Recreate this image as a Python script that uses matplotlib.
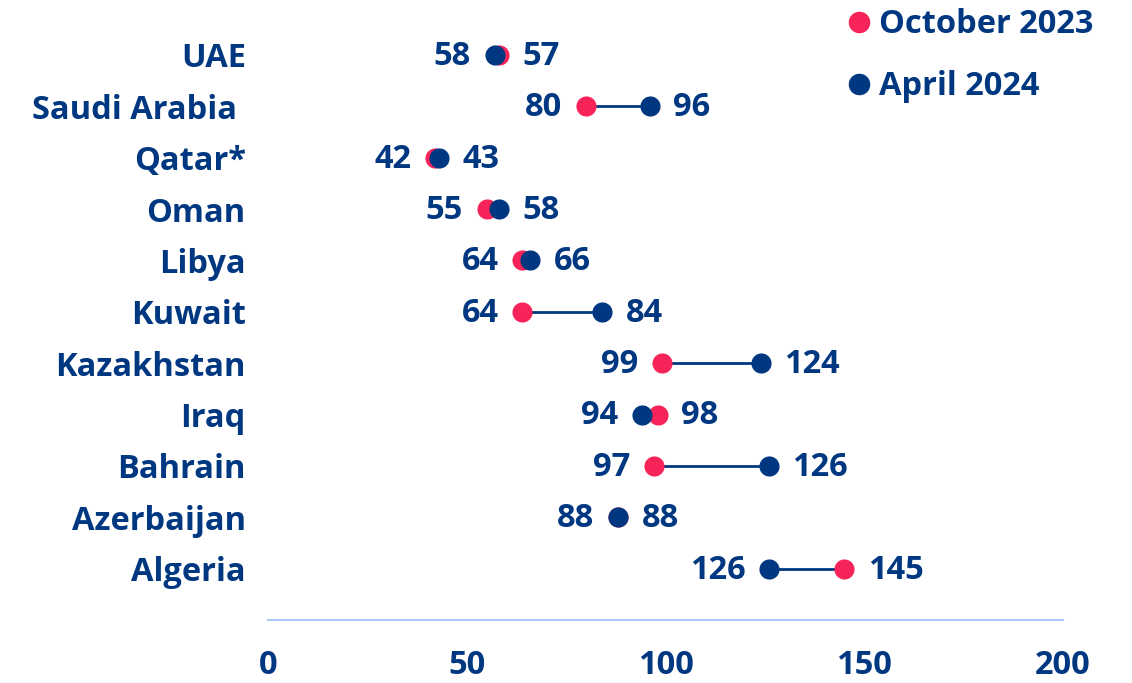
import matplotlib
matplotlib.use('Agg')
import matplotlib.pyplot as plt

# Data (top to bottom as shown)
countries = ['UAE', 'Saudi Arabia ', 'Qatar*', 'Oman', 'Libya', 'Kuwait',
             'Kazakhstan', 'Iraq', 'Bahrain', 'Azerbaijan', 'Algeria']
oct_2023 = [58, 80, 42, 55, 64, 64, 99, 98, 97, 88, 145]
apr_2024 = [57, 96, 43, 58, 66, 84, 124, 94, 126, 88, 126]
left_labels = ['58', '80', '42', '55', '64', '64', '99', '94', '97', '88', '126']
right_labels = ['57', '96', '43', '58', '66', '84', '124', '98', '126', '88', '145']
x_ticks = [0, 50, 100, 150, 200]

RED = '#f62459'
BLUE = '#003781'
AXIS = '#a8c8f8'

plt.rcParams['font.family'] = ['Open Sans', 'DejaVu Sans']
W = 'bold'
FS = 23.5

fig = plt.figure(figsize=(11.32, 6.83), dpi=100)
ax = fig.add_axes([268 / 1132, 1 - 620 / 683, (1063 - 268) / 1132, 0.865])

n = len(countries)
ys = [n - 1 - i for i in range(n)]

for y, a, b, ll, rl in zip(ys, oct_2023, apr_2024, left_labels, right_labels):
    ax.plot([a, b], [y, y], color=BLUE, lw=2, zorder=1)
    ax.annotate(ll, (min(a, b), y), xytext=(-17, -1), textcoords='offset points',
                ha='right', va='center', fontsize=FS, color=BLUE, fontweight=W)
    ax.annotate(rl, (max(a, b), y), xytext=(17, -1), textcoords='offset points',
                ha='left', va='center', fontsize=FS, color=BLUE, fontweight=W)

ax.scatter(oct_2023, ys, s=210, color=RED, zorder=2, linewidths=0)
ax.scatter(apr_2024, ys, s=210, color=BLUE, zorder=3, linewidths=0)

ax.set_xlim(0, 200)
ax.set_ylim(-1, n - 0.5)
ax.set_xticks(x_ticks)
ax.set_xticklabels([str(t) for t in x_ticks])
ax.set_yticks(ys)
ax.set_yticklabels(countries)
ax.tick_params(axis='both', length=0, labelsize=FS, labelcolor=BLUE)
ax.tick_params(axis='x', pad=21)
ax.tick_params(axis='y', pad=16)
for lab in ax.get_xticklabels() + ax.get_yticklabels():
    lab.set_fontweight(W)

for s in ['top', 'right', 'left']:
    ax.spines[s].set_visible(False)
ax.spines['bottom'].set_color(AXIS)
ax.spines['bottom'].set_linewidth(1.5)

# Legend
for yy, col, txt in [(1 - 22 / 683, RED, 'October 2023'), (1 - 84 / 683, BLUE, 'April 2024')]:
    fig.add_artist(plt.Line2D([859 / 1132], [yy], marker='o', markersize=14.5,
                              color=col, linestyle='none', transform=fig.transFigure))
    fig.text(879 / 1132, yy - 0.004, txt, fontsize=FS, color=BLUE, fontweight=W,
             ha='left', va='center')

fig.savefig('out.png', dpi=100)
